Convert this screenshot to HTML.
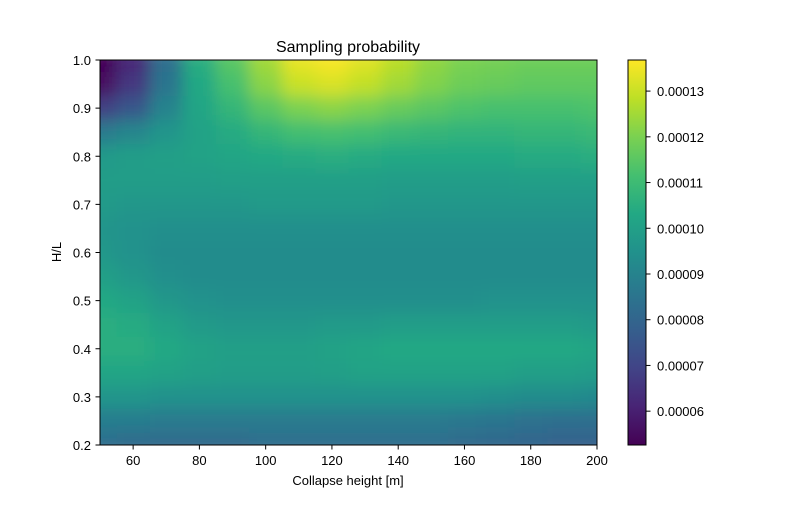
<!DOCTYPE html>
<html><head><meta charset="utf-8"><style>
body{margin:0;background:#fff;}
svg text{font-family:"Liberation Sans","DejaVu Sans",sans-serif;fill:#000;}
</style></head><body>
<svg id="chart" width="800" height="500" xmlns="http://www.w3.org/2000/svg">
<defs>
<filter id="blur" x="0" y="0" width="1" height="1"><feGaussianBlur stdDeviation="8" edgeMode="duplicate"/></filter>
<clipPath id="clip"><rect x="100" y="60" width="497" height="385"/></clipPath>
<linearGradient id="cbgrad" x1="0" y1="1" x2="0" y2="0">
<stop offset="0" stop-color="#440154"/><stop offset="0.1" stop-color="#482475"/><stop offset="0.2" stop-color="#414487"/><stop offset="0.3" stop-color="#355f8d"/><stop offset="0.4" stop-color="#2a788e"/><stop offset="0.5" stop-color="#21918c"/><stop offset="0.6" stop-color="#22a884"/><stop offset="0.7" stop-color="#44bf70"/><stop offset="0.8" stop-color="#7ad151"/><stop offset="0.9" stop-color="#bddf26"/><stop offset="1" stop-color="#fde725"/>
</linearGradient>
</defs>
<text x="348" y="52" font-size="16" text-anchor="middle">Sampling probability</text>
<g clip-path="url(#clip)"><g id="cells" filter="url(#blur)"></g></g>
<rect x="100" y="60" width="497" height="385" fill="none" stroke="#000" stroke-width="1"/>
<g id="axes"></g>
<text x="348" y="485" font-size="13" text-anchor="middle">Collapse height [m]</text>
<text x="61" y="252" font-size="13" text-anchor="middle" transform="rotate(-90 61 252)">H/L</text>
<rect x="628" y="60" width="18" height="385" fill="url(#cbgrad)" stroke="#000" stroke-width="1"/>
<g id="cbticks"></g>
</svg>
<script>
const xValues=[50,60,70,80,90,100,110,120,130,140,150,160,170,180,190,200];
const yValues=[1.0,0.95,0.9,0.85,0.8,0.75,0.7,0.65,0.6,0.55,0.5,0.45,0.4,0.35,0.3,0.25,0.2];
const probE5=[
[5.3,6.2,8.3,10.5,11.5,12.5,13.4,13.6,13.3,12.8,12.3,12.0,11.9,11.8,11.8,11.8],
[5.6,6.6,8.5,10.3,11.2,12.2,13.0,13.2,12.9,12.5,12.1,11.8,11.7,11.6,11.6,11.6],
[6.8,7.5,9.0,10.2,10.8,11.5,12.0,12.2,12.0,11.7,11.5,11.3,11.2,11.2,11.2,11.3],
[8.7,9.1,9.6,10.1,10.4,10.8,11.1,11.2,11.1,10.9,10.8,10.7,10.7,10.8,10.8,10.9],
[9.8,9.9,10.0,10.1,10.2,10.3,10.4,10.5,10.4,10.3,10.3,10.3,10.3,10.4,10.4,10.5],
[9.9,9.9,9.9,9.9,10.0,10.0,10.0,10.0,10.0,9.9,9.9,9.9,9.9,10.0,10.0,10.0],
[9.8,9.7,9.7,9.7,9.7,9.8,9.8,9.8,9.8,9.7,9.7,9.7,9.7,9.7,9.7,9.7],
[9.6,9.5,9.4,9.4,9.4,9.4,9.4,9.4,9.4,9.4,9.4,9.4,9.4,9.4,9.4,9.4],
[9.7,9.5,9.3,9.3,9.3,9.3,9.3,9.3,9.3,9.3,9.3,9.3,9.3,9.3,9.3,9.3],
[10.0,9.7,9.4,9.3,9.3,9.3,9.3,9.3,9.3,9.3,9.3,9.3,9.3,9.3,9.3,9.3],
[10.3,10.1,9.7,9.5,9.4,9.4,9.4,9.4,9.4,9.4,9.4,9.4,9.5,9.5,9.5,9.5],
[10.5,10.4,10.1,9.8,9.7,9.7,9.7,9.8,9.8,9.9,9.9,9.9,9.9,9.9,9.9,9.8],
[10.5,10.5,10.3,10.1,10.0,10.0,10.0,10.1,10.2,10.3,10.3,10.3,10.3,10.3,10.3,10.2],
[10.2,10.2,10.1,10.0,9.9,9.9,9.9,10.0,10.1,10.1,10.1,10.1,10.1,10.0,10.0,9.9],
[9.6,9.6,9.5,9.5,9.5,9.5,9.5,9.5,9.5,9.5,9.5,9.5,9.4,9.3,9.3,9.2],
[8.8,8.8,8.7,8.7,8.7,8.7,8.7,8.7,8.7,8.7,8.7,8.6,8.5,8.4,8.3,8.3],
[8.3,8.2,8.2,8.2,8.2,8.3,8.3,8.3,8.3,8.3,8.3,8.2,8.1,8.0,7.9,7.9]];
const xTicks=[60,80,100,120,140,160,180,200];
const yTicks=[0.2,0.3,0.4,0.5,0.6,0.7,0.8,0.9,1.0];
const cbTicks=[6,7,8,9,10,11,12,13];
const cbLabels=["0.00006","0.00007","0.00008","0.00009","0.00010","0.00011","0.00012","0.00013"];
const vmin=5.26,vmax=13.68;
const X0=100,X1=597,Y0=445,Y1=60;
const xs=v=>X0+(v-50)/150*(X1-X0);
const ys=v=>Y0-(v-0.2)/0.8*(Y0-Y1);
const cbY=v=>445-(v-vmin)/(vmax-vmin)*385;
const vir=["#440154","#482475","#414487","#355f8d","#2a788e","#21918c","#22a884","#44bf70","#7ad151","#bddf26","#fde725"];
function hex(h){return [1,3,5].map(i=>parseInt(h.substr(i,2),16));}
function color(v){let t=Math.max(0,Math.min(1,(v-vmin)/(vmax-vmin)))*10;let i=Math.min(9,Math.floor(t)),f=t-i;
const a=hex(vir[i]),b=hex(vir[i+1]);return "rgb("+a.map((c,k)=>Math.round(c+(b[k]-c)*f)).join(",")+")";}
const NS="http://www.w3.org/2000/svg";
const cells=document.getElementById('cells');
const dx=(xs(60)-xs(50)),dy=(ys(0.2)-ys(0.25));
yValues.forEach((yv,r)=>xValues.forEach((xv,c)=>{
const el=document.createElementNS(NS,'rect');
el.setAttribute('x',xs(xv)-dx/2);el.setAttribute('y',ys(yv)-dy/2);
el.setAttribute('width',dx+0.5);el.setAttribute('height',dy+0.5);
el.setAttribute('fill',color(probE5[r][c]));


cells.appendChild(el);}));
const axes=document.getElementById('axes');
function add(parent,tag,attrs,text){const e=document.createElementNS(NS,tag);for(const k in attrs)e.setAttribute(k,attrs[k]);if(text!==undefined)e.textContent=text;parent.appendChild(e);return e;}
xTicks.forEach(t=>{const x=xs(t);
const l=add(axes,'line',{x1:x,x2:x,y1:445,y2:449.5,stroke:'#000'});


const tx=add(axes,'text',{x:x,y:465,'font-size':13,'text-anchor':'middle'},String(t));

});
yTicks.forEach(t=>{const y=ys(t);
const l=add(axes,'line',{x1:95.5,x2:100,y1:y,y2:y,stroke:'#000'});


const tx=add(axes,'text',{x:91,y:y+5,'font-size':13,'text-anchor':'end'},t.toFixed(1));

});
const cbt=document.getElementById('cbticks');
cbTicks.forEach((t,i)=>{const y=cbY(t);
const l=add(cbt,'line',{x1:646,x2:650.5,y1:y,y2:y,stroke:'#000'});


const tx=add(cbt,'text',{x:657,y:y+5,'font-size':13},cbLabels[i]);

});
</script>
</body></html>
